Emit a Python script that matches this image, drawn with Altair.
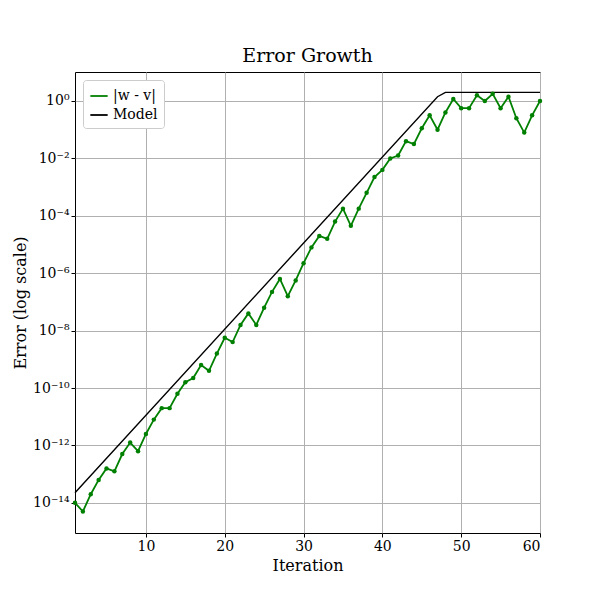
import altair as alt
import pandas as pd

# iterations and log10 of |w - v|
iters = list(range(1, 61))
err_exp = [-14.0, -14.3, -13.7, -13.2, -12.8, -12.9, -12.3, -11.9, -12.2, -11.6,
           -11.1, -10.7, -10.7, -10.2, -9.8, -9.65, -9.2, -9.4, -8.8, -8.25,
           -8.4, -7.8, -7.4, -7.8, -7.2, -6.65, -6.2, -6.8, -6.25, -5.65,
           -5.1, -4.7, -4.8, -4.2, -3.75, -4.35, -3.75, -3.2, -2.65, -2.4,
           -2.0, -1.9, -1.4, -1.5, -0.95, -0.5, -1.0, -0.4, 0.07, -0.25,
           -0.25, 0.2, 0.0, 0.25, -0.25, 0.15, -0.6, -1.1, -0.5, 0.0]

model_iters = [1, 47, 48, 60]
model_exp = [-13.65, 0.15, 0.3, 0.3]

tick_exps = [-14, -12, -10, -8, -6, -4, -2, 0]
sup = str.maketrans("-0123456789", "⁻⁰¹²³⁴⁵⁶⁷⁸⁹")

df = pd.DataFrame({"it": iters, "e": err_exp, "series": "|w - v|"})
dm = pd.DataFrame({"it": model_iters, "e": model_exp, "series": "Model"})

label_expr = "''"
for t in tick_exps:
    label_expr = f"abs(log(datum.value)/LN10 - ({t})) < 0.01 ? '10{str(t).translate(sup)}' : " + label_expr

font = "DejaVu Serif"
color = alt.Color("series:N", scale=alt.Scale(domain=["|w - v|", "Model"], range=["green", "black"]),
                  legend=alt.Legend(title=None, orient="top-left", symbolType="stroke", symbolStrokeWidth=1.8,
                                    strokeColor="#cccccc", fillColor="white", padding=6, cornerRadius=3,
                                    labelFont=font, labelFontSize=14, symbolSize=300, offset=8))

x = alt.X("it:Q", title="Iteration", scale=alt.Scale(domain=[1, 60], nice=False),
          axis=alt.Axis(values=[10, 20, 30, 40, 50, 60], grid=True))
y = alt.Y("err:Q", title="Error (log scale)",
          scale=alt.Scale(type="log", domain=[10 ** -15.05, 10 ** 1.01], nice=False),
          axis=alt.Axis(values=[10.0 ** t for t in tick_exps], labelExpr=label_expr, grid=True))

base_g = alt.Chart(df).transform_calculate(err="pow(10, datum.e)")
line_g = base_g.mark_line(strokeWidth=1.8).encode(x=x, y=y, color=color)
pts_g = base_g.mark_point(filled=True, size=20, opacity=1, color="green").encode(x="it:Q", y="err:Q")
line_m = alt.Chart(dm).transform_calculate(err="pow(10, datum.e)").mark_line(strokeWidth=1.4).encode(
    x="it:Q", y="err:Q", color=color)

chart = (
    alt.layer(line_m, line_g, pts_g)
    .properties(width=465, height=461, title=alt.Title("Error Growth", font=font, fontSize=19, fontWeight="normal", offset=6),
                padding={"left": 67, "top": 64, "right": 50, "bottom": 60}, autosize="none")
    .configure_view(stroke="black", strokeWidth=1)
    .configure_axis(labelFont=font, titleFont=font, labelFontSize=14, titleFontSize=16, titleFontWeight="normal",
                    labelColor="black", titleColor="black", gridColor="#b0b0b0", gridWidth=1, domain=False,
                    tickColor="black", tickSize=4)
)
chart.save("out.html", embed_options={"renderer": "svg", "actions": False})
